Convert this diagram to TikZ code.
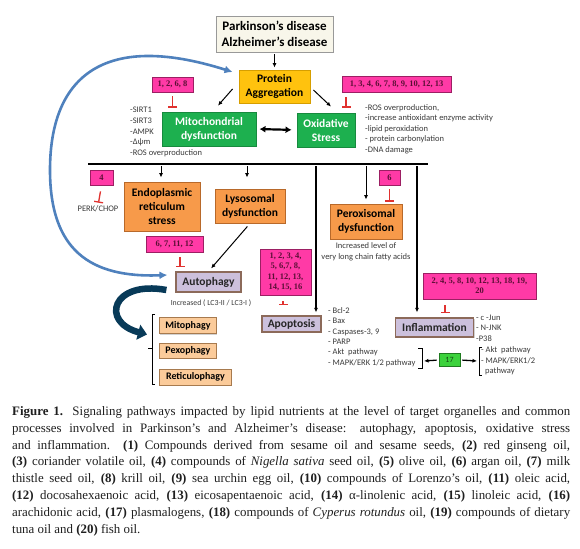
\documentclass[tikz,border=0pt]{standalone}
\usepackage{fontspec}
\setmainfont{Liberation Serif}
\newfontfamily\carl{Carlito}
\usetikzlibrary{arrows.meta,shadows,calc}
\definecolor{pinkf}{HTML}{FF3AA6}
\definecolor{pinkd}{HTML}{9C1F63}
\definecolor{pinkt}{HTML}{5A0F35}
\definecolor{grn}{HTML}{1DB04F}
\definecolor{grnd}{HTML}{178A3E}
\definecolor{orng}{HTML}{F79A4A}
\definecolor{orngd}{HTML}{B8692A}
\definecolor{yel}{HTML}{FFC20E}
\definecolor{yeld}{HTML}{D69E00}
\definecolor{purf}{HTML}{CCC0DC}
\definecolor{purd}{HTML}{8C6A5A}
\definecolor{lor}{HTML}{FBCB9A}
\definecolor{lord}{HTML}{A77A4E}
\definecolor{cream}{HTML}{F8F6EA}
\definecolor{blu}{HTML}{4F81BD}
\definecolor{navy}{HTML}{083A58}
\definecolor{inred}{HTML}{E0322F}
\definecolor{txtg}{HTML}{3A3A3A}
\definecolor{gsev}{HTML}{3CD23C}
\definecolor{gsevd}{HTML}{1F7A1F}
\tikzset{
  box/.style={draw, line width=0.9pt, inner sep=0pt, align=center,
    drop shadow={shadow xshift=1pt,shadow yshift=-1pt,opacity=0.35}},
  pinkbox/.style={box, fill=pinkf, draw=pinkd, text=pinkt,
    font=\bfseries\fontsize{8.5}{10.5}\selectfont},
  title/.style={font=\carl\bfseries\fontsize{11.5}{14}\selectfont},
  greenbox/.style={box, title, fill=grn, draw=grnd, text=white},
  orangebox/.style={box, title, fill=orng, draw=orngd, text=black},
  purbox/.style={box, title, fill=purf, draw=purd, line width=1.2pt, text=black!85},
  lobox/.style={box, fill=lor, draw=lord, anchor=west,
    font=\carl\bfseries\fontsize{10}{12}\selectfont},
  small/.style={font=\carl\fontsize{8.5}{10.6}\selectfont, text=txtg, align=left, inner sep=0pt},
  arr/.style={-{Latex[length=4.5pt,width=4pt]}, line width=1pt},
  inh/.style={-{Bar[width=9pt,line width=1.3pt]}, draw=inred, line width=1.3pt},
}
\begin{document}
\begin{tikzpicture}[x=1pt,y=-1pt]
\useasboundingbox[fill=white] (0,0) rectangle (580,548);

% top
\node[box, fill=cream, draw=black!40, minimum width=117pt, minimum height=36pt,
  font=\carl\bfseries\fontsize{13}{15.5}\selectfont] (pd) at (274.5,34) {Parkinson’s disease\\Alzheimer’s disease};
\node[box, title, fill=yel, draw=yeld, minimum width=71pt, minimum height=33pt] (pa) at (274.5,86.5) {Protein\\Aggregation};
\node[greenbox, minimum width=94pt, minimum height=34pt] (m) at (209,129) {Mitochondrial\\dysfunction};
\node[greenbox, minimum width=58pt, minimum height=34pt] (os) at (326,130) {Oxidative\\Stress};
\node[pinkbox, minimum width=41pt, minimum height=15pt] (p1) at (172.5,84.5) {1, 2, 6, 8};
\node[pinkbox, minimum width=109pt, minimum height=16pt] (p2) at (396.5,84) {1, 3, 4, 6, 7, 8, 9, 10, 12, 13};
\node[small, anchor=west] (mlist) at (130,132) {-SIRT1\\-SIRT3\\-AMPK\\-Δψm\\-ROS overproduction};
\node[small, anchor=west] (oslist) at (365,129) {-ROS overproduction,\\-increase antioxidant enzyme activity\\-lipid peroxidation\\- protein carbonylation\\-DNA damage};

\draw[arr, shorten <=2pt, shorten >=2pt] (pd.south) -- (pa.north);
\draw[arr] ([xshift=-6pt,yshift=-2.5pt]pa.west) -- ([xshift=9pt,yshift=6pt]m.north);
\draw[arr] ([xshift=3pt,yshift=-3.5pt]pa.east) -- ([xshift=5pt,yshift=6pt]os.north);
\draw[{Latex[length=6pt,width=7pt]}-{Latex[length=6pt,width=7pt]}, line width=2.2pt, shorten <=3pt, shorten >=5pt] (m.east) -- (os.west);
\draw[inh, shorten <=4pt, shorten >=4pt] (p1.south) -- (p1.south |- m.north);
\draw[inh, shorten <=5pt, shorten >=5pt] ([xshift=-50.5pt]p2.south) -- ([xshift=-50.5pt]p2.south |- os.north);

% bar
\coordinate (hl1) at (88,164);
\coordinate (hl2) at (428,164);
\draw[line width=2.3pt] (hl1) -- (hl2);
\coordinate (b1) at (161,164);
\coordinate (b2) at (247,164);
\coordinate (b3) at (316,164);
\coordinate (b4) at (366,164);
\coordinate (b5) at (417,164);

% middle row
\node[pinkbox, minimum width=23pt, minimum height=15pt] (p4) at (101.5,177.5) {4};
\node[font=\carl\fontsize{8.5}{10}\selectfont, text=txtg, inner sep=0pt] (perk) at (98,209) {PERK/CHOP};
\node[orangebox, minimum width=76pt, minimum height=49pt] (er) at (162,206.5) {Endoplasmic\\reticulum\\stress};
\node[orangebox, minimum width=70pt, minimum height=34pt] (lys) at (250,206) {Lysosomal\\dysfunction};
\node[pinkbox, minimum width=21pt, minimum height=15pt] (p6) at (389.5,177.5) {6};
\node[orangebox, minimum width=72pt, minimum height=35pt] (perox) at (366,221.5) {Peroxisomal\\dysfunction};
\node[small, align=center] (pxt) at (366,252) {Increased level of\\very long chain fatty acids};

\draw[arr, shorten <=2pt, shorten >=4pt] (b1) -- (b1 |- er.north);
\draw[arr, shorten <=2pt, shorten >=11pt] (b2) -- (b2 |- lys.north);
\draw[arr, shorten <=2pt, shorten >=4pt] (b4) -- (perox.north);
\draw[inh, shorten <=6pt, shorten >=3pt] (p4.south) -- (perk.north);
\draw[inh, shorten <=4pt, shorten >=2pt] (p6.south) -- (p6.south |- perox.north);

% autophagy
\node[pinkbox, minimum width=57pt, minimum height=16pt] (p6711) at (174.5,244) {6, 7, 11, 12};
\node[purbox, minimum width=65pt, minimum height=20pt] (auto) at (208.5,282) {Autophagy};
\node[small, font=\carl\fontsize{7.8}{10}\selectfont] (lc3) at (211,303) {Increased ( LC3-II / LC3-I )};
\draw[inh, shorten <=5pt, shorten >=4pt] ([xshift=5.5pt]p6711.south) -- ([xshift=5.5pt]p6711.south |- auto.north);
\draw[arr, shorten <=4pt, shorten >=4pt] (lys.south) -- (auto.north);

\node[lobox, minimum width=57pt, minimum height=16pt] (mito) at (159,325.5) {Mitophagy};
\node[lobox, minimum width=57pt, minimum height=15pt] (pexo) at (159,350.5) {Pexophagy};
\node[lobox, minimum width=72pt, minimum height=16pt] (reti) at (159,377) {Reticulophagy};
\draw[line width=1pt] (155,314) -- (152,314) -- (152,384) -- (155,384);
\draw[line width=1pt] (152,348) -- (148,348);

\draw[blu, line width=2.6pt, {Latex[length=8pt,width=8pt]}-{Latex[length=8pt,width=8pt]}]
  ([xshift=-8pt,yshift=7pt]auto.west) .. controls (90,278) and (50,250) .. (50,170)
  .. controls (50,80) and (100,30) .. ([xshift=-6pt,yshift=14.5pt]pa.west);
\draw[navy, line width=6.5pt, -{Triangle[length=9pt,width=15pt]}]
  ([xshift=-9pt,yshift=-8pt]auto.west) .. controls (112,280) and (100,322) .. ([xshift=-12pt,yshift=-9pt]mito.west);

% apoptosis
\node[pinkbox, minimum width=51pt, minimum height=46pt] (pApo) at (285.5,272) {1, 2, 3, 4,\\5, 6,7, 8,\\11, 12, 13,\\14, 15, 16};
\node[purbox, minimum width=59pt, minimum height=16pt] (apo) at (291.5,324) {Apoptosis};
\node[small, anchor=west, font=\carl\fontsize{8.5}{10.4}\selectfont] (apolist) at (328,337) {- Bcl-2\\- Bax\\- Caspases-3, 9\\- PARP\\- Akt\ \ pathway\\- MAPK/ERK 1/2 pathway};
\draw[inh, shorten <=6pt, shorten >=10pt] ([xshift=-2.5pt]pApo.south) -- ([xshift=-2.5pt]pApo.south |- apo.north);
\draw[arr, line width=1.2pt, shorten <=2pt, shorten >=3pt] (b3) -- (b3 |- apo.north);

% inflammation
\node[pinkbox, minimum width=113pt, minimum height=26pt, font=\bfseries\fontsize{8.5}{10}\selectfont] (pInf) at (479.5,286) {2, 4, 5, 8, 10, 12, 13, 18, 19,\\20};
\node[purbox, minimum width=78pt, minimum height=19pt] (infl) at (434.5,327.5) {Inflammation};
\node[small, anchor=west] (infllist) at (476,328) {- c -Jun\\- N-JNK\\-P38};
\draw[inh, shorten <=6pt, shorten >=4pt] ([xshift=-34.5pt]pInf.south) -- ([xshift=-34.5pt]pInf.south |- infl.north);
\draw[arr, line width=1.2pt, shorten <=2pt, shorten >=5pt] (b5) -- (b5 |- infl.north);

% plasmalogens
\node[draw=gsevd, fill=gsev, line width=0.8pt, minimum width=21pt, minimum height=13pt, inner sep=0pt,
  font=\carl\fontsize{8}{9}\selectfont, text=gsevd!60!black] (g17) at (449.5,360) {17};
\draw[line width=0.8pt] (418,348) -- (422,348) -- (422,368) -- (418,368);
\draw[line width=0.8pt] (482,347) -- (479,347) -- (479,375) -- (482,375);
\coordinate (brR) at (424,361);
\coordinate (brL) at (477,361);
\draw[arr, line width=1.3pt, shorten <=2pt] (g17.west) -- (brR);
\draw[arr, line width=1.3pt, shorten <=2pt] (g17.east) -- (brL);
\node[small, anchor=west] (aktlist) at (481,361) {- Akt\ \ pathway\\- MAPK/ERK1/2\\\hspace*{4pt}pathway};

% caption
\node[anchor=north west, inner sep=0pt, align=left, text=black!88,
  font=\fontsize{12.9}{16.9}\selectfont] (cap) at (12,406) {%
\makebox[558pt][s]{\textbf{Figure 1.} Signaling pathways impacted by lipid nutrients at the level of target organelles and common}\\
\makebox[558pt][s]{processes involved in Parkinson’s and Alzheimer’s disease: autophagy, apoptosis, oxidative stress}\\
\makebox[558pt][s]{and inflammation.\ \ \textbf{(1)} Compounds derived from sesame oil and sesame seeds, \textbf{(2)} red ginseng oil,}\\
\makebox[558pt][s]{\textbf{(3)} coriander volatile oil, \textbf{(4)} compounds of \textit{Nigella sativa} seed oil, \textbf{(5)} olive oil, \textbf{(6)} argan oil, \textbf{(7)} milk}\\
\makebox[558pt][s]{thistle seed oil, \textbf{(8)} krill oil, \textbf{(9)} sea urchin egg oil, \textbf{(10)} compounds of Lorenzo’s oil, \textbf{(11)} oleic acid,}\\
\makebox[558pt][s]{\textbf{(12)} docosahexaenoic acid, \textbf{(13)} eicosapentaenoic acid, \textbf{(14)} α-linolenic acid, \textbf{(15)} linoleic acid, \textbf{(16)}}\\
\makebox[558pt][s]{arachidonic acid, \textbf{(17)} plasmalogens, \textbf{(18)} compounds of \textit{Cyperus rotundus} oil, \textbf{(19)} compounds of dietary}\\
\makebox[558pt][l]{tuna oil and \textbf{(20)} fish oil.}};
\end{tikzpicture}
\end{document}
